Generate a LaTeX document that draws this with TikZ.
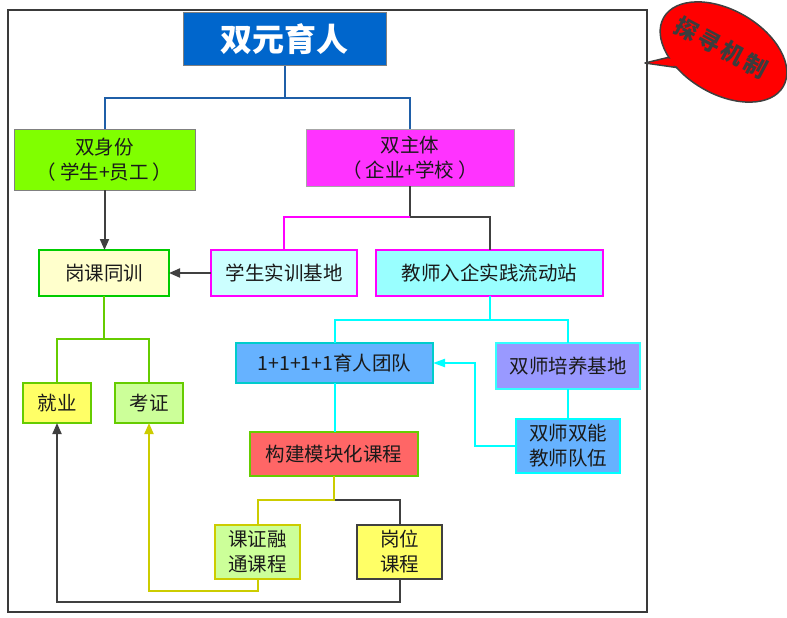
\documentclass[tikz,border=0pt]{standalone}
\usepackage{fontspec}
\setmainfont{Noto Sans CJK SC}
\usetikzlibrary{arrows.meta,shapes.geometric}
\definecolor{darkline}{HTML}{404040}
\definecolor{blueline}{HTML}{1F5FA8}
\definecolor{greenline}{HTML}{66CC00}
\definecolor{oliveline}{HTML}{CCCC00}
\definecolor{cyanline}{HTML}{00FFFF}
\definecolor{magline}{HTML}{FF00FF}
\definecolor{txt}{HTML}{1A1A1A}
\definecolor{bubtxt}{HTML}{3C3C3C}
\tikzset{
  box/.style={draw, line width=2pt, inner sep=0pt, outer sep=0pt, align=center, text=txt,
    font=\fontsize{19.5}{25}\selectfont},
  conn/.style={line width=2pt},
  tip/.style={-{Triangle[length=11pt,width=9pt]}},
}
\begin{document}
\begin{tikzpicture}[x=1pt,y=-1pt]
\useasboundingbox (0,0) rectangle (787,618);
% outer frame
\draw[line width=2pt, color=darkline!90!black] (8,10) rectangle (647,612);

% nodes
\node[box, line width=1pt, draw=gray, fill={rgb,255:red,0;green,102;blue,204}, text=white,
  font=\fontsize{32}{36}\selectfont\bfseries, minimum width=203pt, minimum height=53pt] (title) at (284.5,39.5) {双元育人};
\node[box, line width=1pt, draw=gray, fill={rgb,255:red,128;green,255;blue,0},
  minimum width=181pt, minimum height=61pt] (shen) at (104.5,159.5) {双身份\\（\hspace{4pt}学生+员工\hspace{4pt}）};
\node[box, line width=1pt, draw=gray!70, fill={rgb,255:red,255;green,51;blue,255},
  minimum width=208pt, minimum height=57pt] (zhuti) at (410,157.5) {双主体\\（\hspace{4pt}企业+学校\hspace{4pt}）};
\node[box, draw={rgb,255:red,0;green,204;blue,0}, fill={rgb,255:red,255;green,255;blue,204},
  minimum width=130pt, minimum height=46pt] (gang) at (104,273) {岗课同训};
\node[box, draw=magline, fill={rgb,255:red,204;green,255;blue,255},
  minimum width=146pt, minimum height=46pt] (shixun) at (284,273) {学生实训基地};
\node[box, draw=magline, fill={rgb,255:red,153;green,255;blue,255},
  minimum width=227pt, minimum height=46pt] (liudong) at (489.5,273) {教师入企实践流动站};
\node[box, draw=greenline, fill={rgb,255:red,255;green,255;blue,102},
  minimum width=68pt, minimum height=40pt] (jiuye) at (57,403) {就业};
\node[box, draw=greenline, fill={rgb,255:red,204;green,255;blue,153},
  minimum width=68pt, minimum height=40pt] (kaozheng) at (149,403) {考证};
\node[box, draw={rgb,255:red,0;green,204;blue,204}, fill={rgb,255:red,102;green,178;blue,255},
  minimum width=197pt, minimum height=40pt] (tuandui) at (334.5,363) {1+1+1+1育人团队};
\node[box, draw={rgb,255:red,51;green,255;blue,255}, fill={rgb,255:red,153;green,153;blue,255},
  minimum width=144pt, minimum height=46pt] (peiyang) at (568,366) {双师培养基地};
\node[box, draw=cyanline, fill={rgb,255:red,102;green,178;blue,255},
  minimum width=104pt, minimum height=54pt] (shuangneng) at (568,446) {双师双能\\教师队伍};
\node[box, draw=greenline, fill={rgb,255:red,255;green,102;blue,102},
  minimum width=168pt, minimum height=44pt] (mokuai) at (334,454) {构建模块化课程};
\node[box, draw=oliveline, fill={rgb,255:red,204;green,255;blue,153},
  minimum width=85pt, minimum height=54pt] (kerong) at (257.5,552) {课证融\\通课程};
\node[box, draw=darkline, fill={rgb,255:red,255;green,255;blue,102},
  minimum width=85pt, minimum height=54pt] (gangwei) at (399.5,552) {岗位\\课程};

% connectors
\draw[conn, blueline] (title.south) -- (title.south |- 0,98) coordinate (bj)
  -| (shen.north);
\draw[conn, blueline] (bj) -| (zhuti.north);
\draw[conn, darkline, tip] (shen.south) -- (shen.south |- gang.north);
\draw[conn, darkline] (zhuti.south) -- (zhuti.south |- 0,217) coordinate (zj)
  -| (liudong.north);
\draw[conn, magline] (zj) -| (shixun.north);
\draw[conn, darkline, tip] (shixun.west) -- (gang.east);
\draw[conn, greenline] (gang.south) -- (gang.south |- 0,339) coordinate (gj)
  -| (jiuye.north);
\draw[conn, greenline] (gj) -| (kaozheng.north);
\draw[conn, cyanline] (liudong.south) -- (liudong.south |- 0,320) coordinate (lj)
  -| (tuandui.north);
\draw[conn, cyanline] (lj) -| (peiyang.north);
\draw[conn, cyanline] (peiyang.south) -- (shuangneng.north);
\draw[conn, cyanline, -{Triangle[length=12pt,width=8pt]}] (shuangneng.west) -- ++(-41,0) |- (tuandui.east);
\draw[conn, cyanline] (tuandui.south) -- (tuandui.south |- mokuai.north);
\draw[conn, darkline] (mokuai.south) -- (mokuai.south |- 0,500) coordinate (mj)
  -| (gangwei.north);
\draw[conn, oliveline] (mokuai.south) -- (mj) -| (kerong.north);
\draw[conn, oliveline, tip] (kerong.south) -- ++(0,12) -| (kaozheng.south);
\draw[conn, darkline, tip] (gangwei.south) -- ++(0,23) -| (jiuye.south);

% callout
\coordinate (tipc) at (645,63);
\fill[red, draw=darkline, line width=1.5pt, line join=round] (tipc) -- (674,56) -- (680,68) -- cycle;
\node[ellipse, fill=red, draw=darkline, line width=1.5pt, rotate=-30,
  minimum width=138pt, minimum height=84pt, inner sep=0pt] (bubble) at (723.5,52) {};
\fill[red] (649,63) -- (675,57.6) -- (679,66.2) -- cycle;
\node[rotate=-28, text=bubtxt, inner sep=0pt, font=\fontsize{23}{25}\selectfont\bfseries\addfontfeatures{LetterSpace=14}] (btext) at (721.5,47.5) {探寻机制};
\end{tikzpicture}
\end{document}
